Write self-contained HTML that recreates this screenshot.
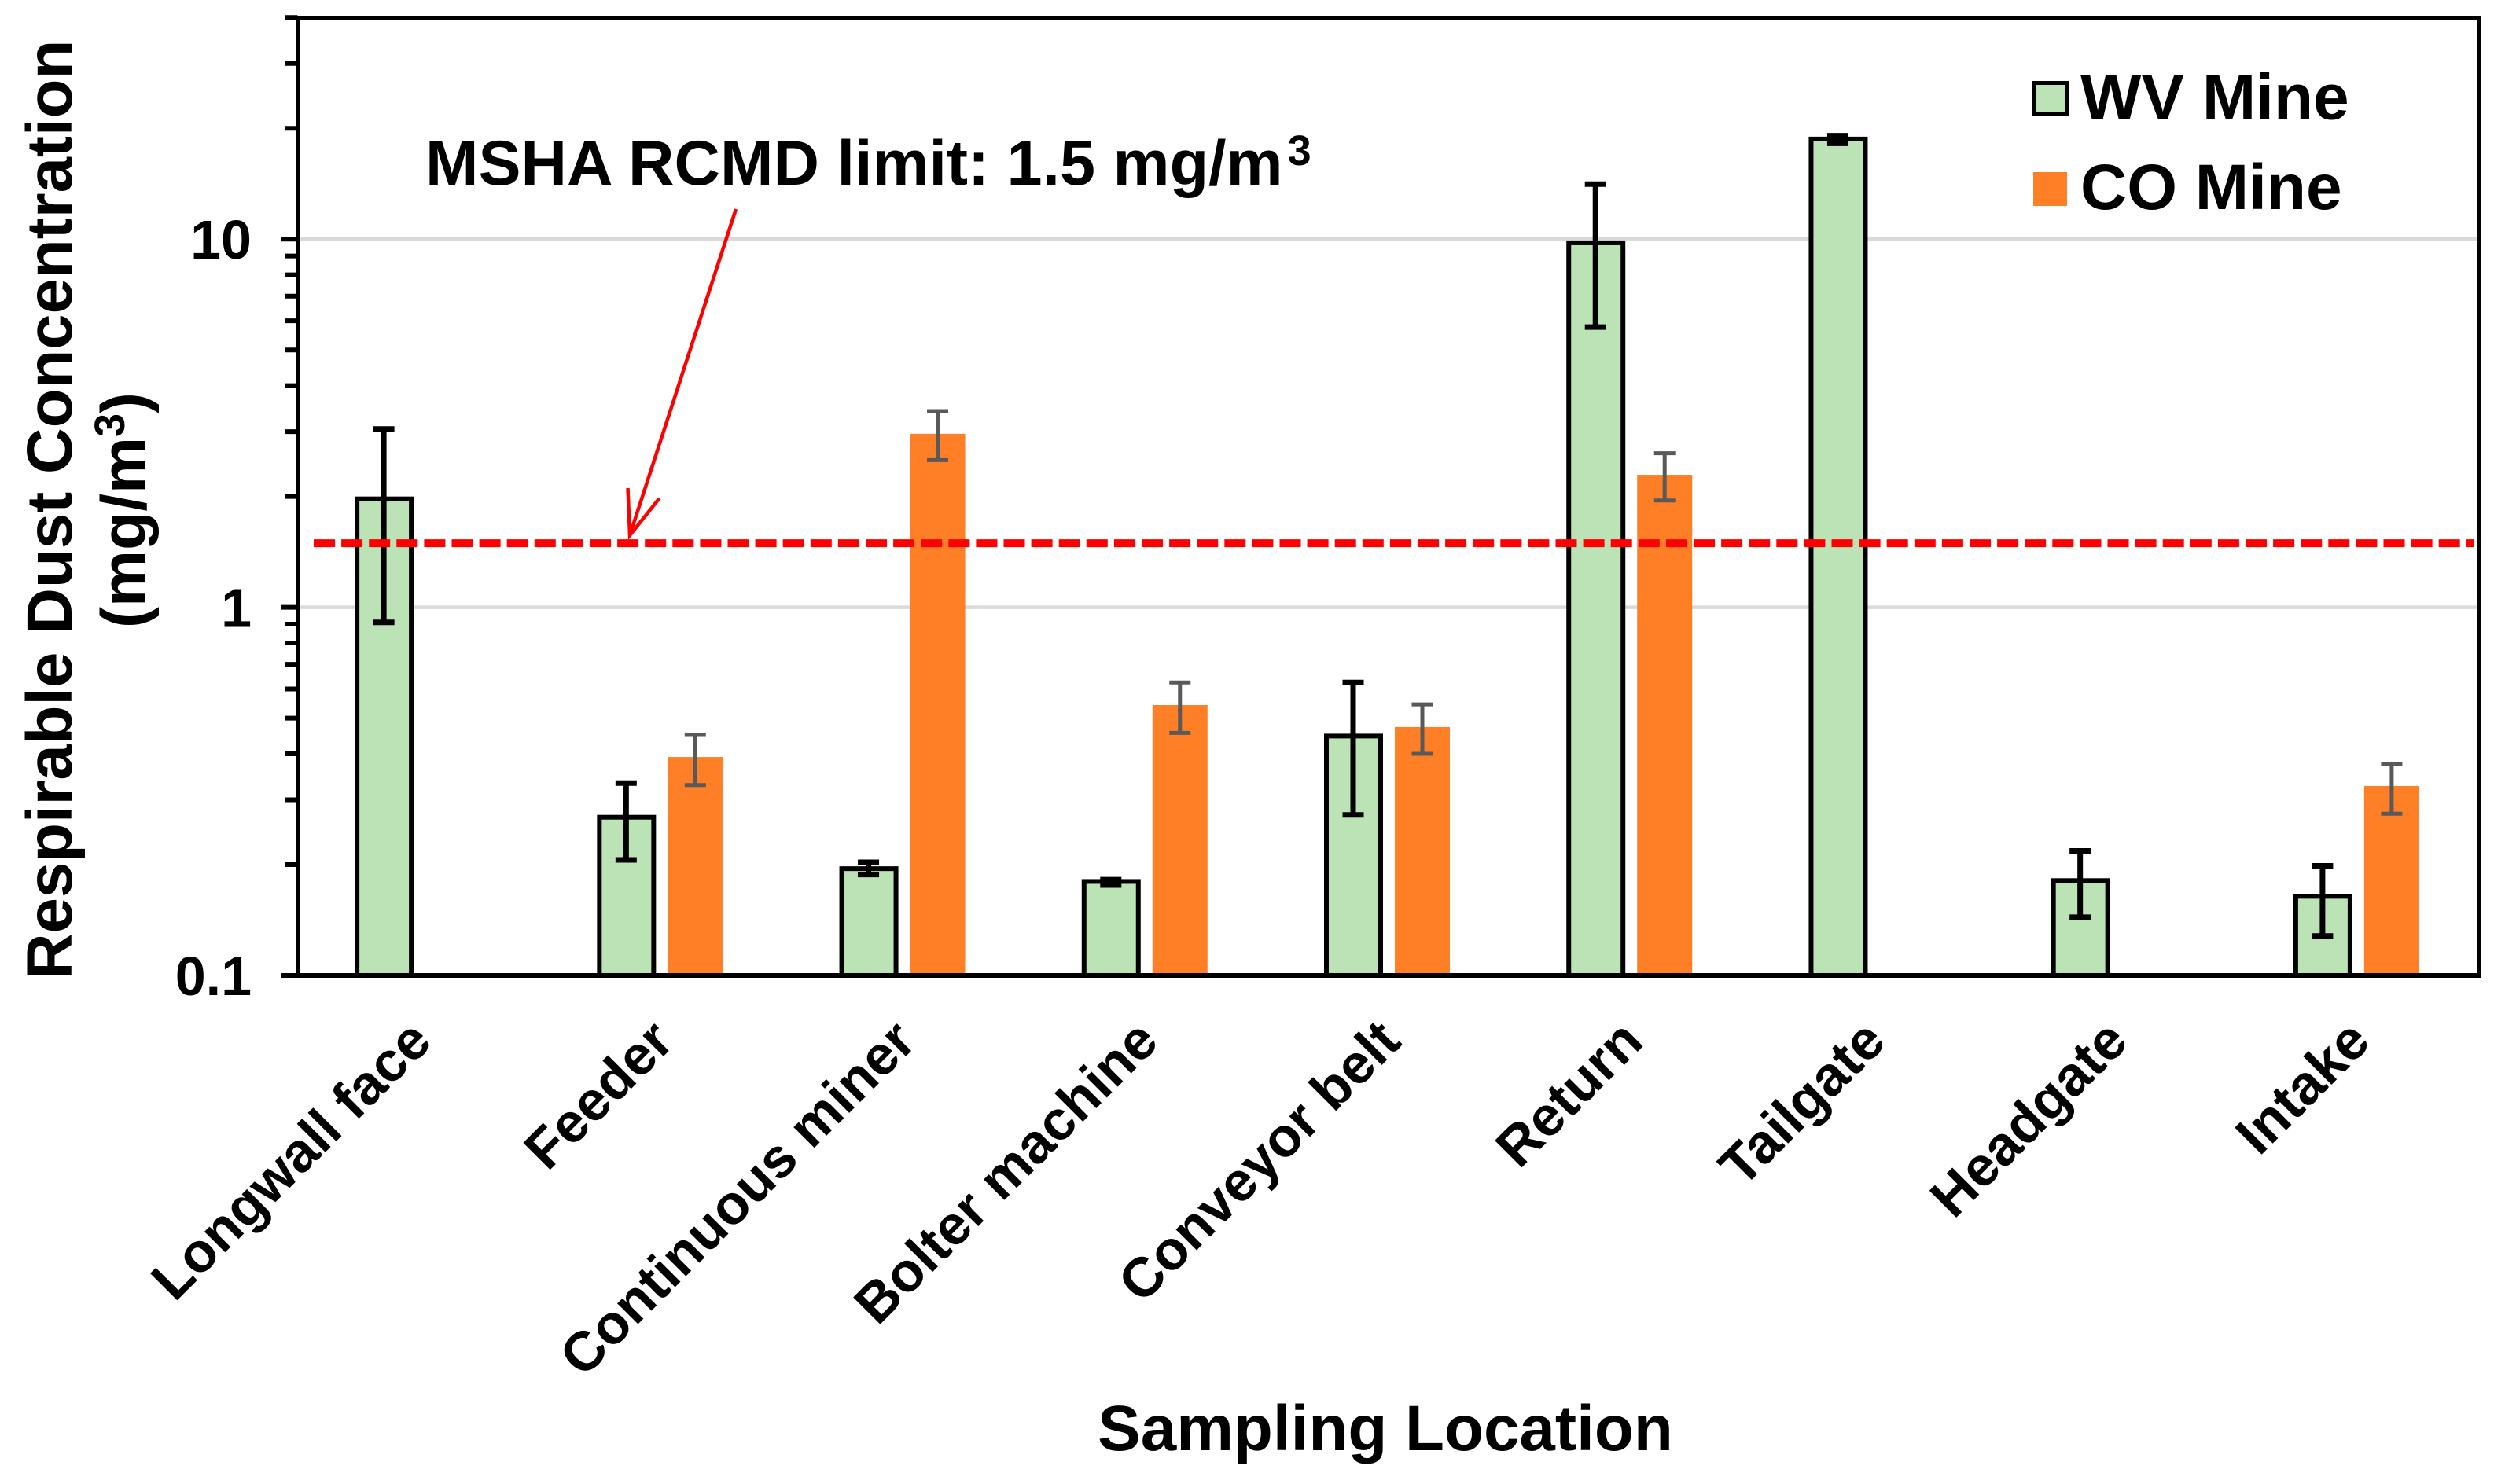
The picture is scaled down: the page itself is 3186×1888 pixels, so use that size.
<!DOCTYPE html>
<html lang="en">
<head>
<meta charset="utf-8">
<title>Respirable Dust Concentration by Sampling Location</title>
<style>
  html, body { margin: 0; padding: 0; background: #fff; }
  svg { display: block; }
  text { font-family: "Liberation Sans", Arial, sans-serif; font-weight: 700; fill: #000; }
</style>
</head>
<body>
<svg id="chart" xmlns="http://www.w3.org/2000/svg" width="3186" height="1888" viewBox="0 0 3186 1888">
  <rect x="0" y="0" width="3186" height="1888" fill="#ffffff"/>
  <g id="grid"></g>
  <g id="bars"></g>
  <g id="errors"></g>
  <g id="axes"></g>
  <g id="ylabels"></g>
  <g id="xlabels"></g>
  <g id="limit"></g>

  <text transform="translate(91,648.5) rotate(-90)" text-anchor="middle" font-size="81.5">Respirable Dust Concentration</text>
  <text transform="translate(185,649) rotate(-90)" text-anchor="middle" font-size="81">(mg/m<tspan font-size="54" dy="-27">3</tspan><tspan dy="27">)</tspan></text>
  <text x="1762" y="1845" text-anchor="middle" font-size="81.8">Sampling Location</text>

  <text x="541" y="235" font-size="81">MSHA RCMD limit: 1.5 mg/m<tspan font-size="54" dx="6" dy="-25">3</tspan></text>
  <g fill="none" stroke="#ff0000" stroke-width="4.5">
    <line x1="936" y1="266" x2="801" y2="681"/>
    <polyline points="798.5,621 801,681 838.6,634"/>
  </g>

  <g>
    <rect x="2587.5" y="105.5" width="41" height="40" fill="#bbe3b5" stroke="#000" stroke-width="5"/>
    <text x="2646" y="151.5" font-size="82">WV Mine</text>
    <rect x="2586" y="219" width="43" height="43" fill="#ff7f27"/>
    <text x="2646" y="266" font-size="82">CO Mine</text>
  </g>

<script>
const categories = ["Longwall face","Feeder","Continuous miner","Bolter machine","Conveyor belt","Return","Tailgate","Headgate","Intake"];
const wvValues = [1.97,0.269,0.195,0.18,0.447,9.77,18.7,0.181,0.164];
const wvErrHigh = [3.05,0.333,0.203,0.182,0.625,14.1,19.1,0.218,0.1985];
const wvErrLow = [0.91,0.206,0.188,0.176,0.273,5.77,18.2,0.144,0.128];
const coValues = [null,0.392,2.96,0.5425,0.473,2.29,null,null,0.327];
const coErrHigh = [null,0.45,3.41,0.625,0.545,2.62,null,null,0.376];
const coErrLow = [null,0.329,2.51,0.456,0.4,1.95,null,null,0.275];
const majorTicks = [0.1,1,10];
const majorTickLabels = ["0.1","1","10"];
const minorTicks = [0.2,0.3,0.4,0.5,0.6,0.7,0.8,0.9,2,3,4,5,6,7,8,9,20,30,40];
const limitValue = 1.5;

const NS = "http://www.w3.org/2000/svg";
const plotLeft = 378.5, plotRight = 3152.5, plotBottom = 1241, plotTop = 23;
const decadePx = 468.4;
const yOf = v => plotBottom - decadePx * (Math.log10(v) + 1);
const bandPx = (plotRight - plotLeft) / categories.length;
const xOf = i => plotLeft + bandPx * (i + 0.5);

function add(parentId, tag, attrs) {
  const el = document.createElementNS(NS, tag);
  for (const k in attrs) el.setAttribute(k, attrs[k]);
  document.getElementById(parentId).appendChild(el);
  return el;
}

/* gridlines */
[1,10].forEach(v => {
  const l = add("grid","line",{x1:plotLeft,x2:plotRight,y1:yOf(v),y2:yOf(v),stroke:"#d9d9d9","stroke-width":4.5});
  
  
});

/* bars */
categories.forEach((c,i) => {
  if (wvValues[i] !== null) {
    const y = yOf(wvValues[i]);
    const r = add("bars","rect",{x:xOf(i)-44-34.5,y:y,width:69,height:plotBottom-y,fill:"#bbe3b5",stroke:"#000","stroke-width":6});
    
    
  }
  if (coValues[i] !== null) {
    const y = yOf(coValues[i]);
    const r = add("bars","rect",{x:xOf(i)+43.5-35,y:y,width:70,height:plotBottom-y,fill:"#ff7f27"});
    
    
  }
});

/* error bars */
function errorBar(cx, hi, lo, color, w, name) {
  const g = add("errors","g",{stroke:color,"stroke-width":w,fill:"none"});
  
  
  const make = (x1,y1,x2,y2) => {
    const l = document.createElementNS(NS,"line");
    l.setAttribute("x1",x1); l.setAttribute("y1",y1);
    l.setAttribute("x2",x2); l.setAttribute("y2",y2);
    g.appendChild(l);
  };
  make(cx,yOf(hi),cx,yOf(lo));
  make(cx-13.5,yOf(hi),cx+13.5,yOf(hi));
  make(cx-13.5,yOf(lo),cx+13.5,yOf(lo));
}
categories.forEach((c,i) => {
  if (wvValues[i] !== null) errorBar(xOf(i)-44.5, wvErrHigh[i], wvErrLow[i], "#000", 7, "error-bar-wv-mine");
  if (coValues[i] !== null) errorBar(xOf(i)+43.5, coErrHigh[i], coErrLow[i], "#595959", 5, "error-bar-co-mine");
});

/* axes */
[["y-axis-line",plotLeft,plotTop-3,plotLeft,plotBottom+3],
 ["x-axis-line",357,plotBottom,plotRight+3,plotBottom],
 ["top-border",362,plotTop,plotRight+3,plotTop],
 ["right-border",plotRight,plotTop-3,plotRight,plotBottom+3]].forEach(a => {
  const l = add("axes","line",{x1:a[1],y1:a[2],x2:a[3],y2:a[4],stroke:"#000","stroke-width":a[0]==="y-axis-line"||a[0]==="right-border"?5:6});
  
  
});
majorTicks.forEach((v,i) => {
  const t = add("axes","line",{x1:357,x2:plotLeft,y1:yOf(v),y2:yOf(v),stroke:"#000","stroke-width":6});
  
  
  const tx = add("ylabels","text",{x:320,y:yOf(v)+25,"text-anchor":"end","font-size":70});
  
  
  tx.textContent = majorTickLabels[i];
});
minorTicks.forEach(v => {
  const t = add("axes","line",{x1:362,x2:plotLeft,y1:yOf(v),y2:yOf(v),stroke:"#000","stroke-width":6});
  
  
});

/* category labels */
categories.forEach((c,i) => {
  const x = xOf(i) + 19, y = 1328;
  const t = add("xlabels","text",{transform:`translate(${x},${y}) rotate(-45)`,"text-anchor":"end","font-size":70.5});
  
  
  t.textContent = c;
});

/* limit line */
const limitLine = add("limit","line",{x1:399,x2:3146,y1:yOf(limitValue)+1,y2:yOf(limitValue)+1,stroke:"#ff0000","stroke-width":10,"stroke-dasharray":"27 8.1"});


</script>
</svg>
</body>
</html>
